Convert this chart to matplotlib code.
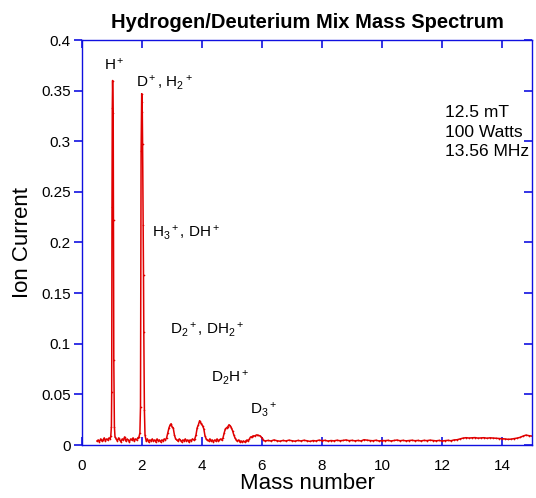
import matplotlib
matplotlib.use("Agg")
import matplotlib.pyplot as plt
from matplotlib.ticker import FuncFormatter

plt.rcParams['font.family'] = ['Liberation Sans', 'DejaVu Sans']
plt.rcParams['mathtext.fontset'] = 'custom'
plt.rcParams['mathtext.rm'] = 'Liberation Sans'
plt.rcParams['mathtext.it'] = 'Liberation Sans'

mass = [0.50, 0.54, 0.58, 0.62, 0.66, 0.70, 0.74, 0.78, 0.82, 0.86, 0.90, 0.94, 0.96,
        0.98, 0.99, 1.00, 1.01, 1.02, 1.04, 1.05, 1.06, 1.08, 1.10,
        1.14, 1.18, 1.22, 1.26, 1.30, 1.34, 1.38, 1.42, 1.46, 1.50, 1.54, 1.58, 1.62, 1.66, 1.70,
        1.74, 1.78, 1.82, 1.86, 1.90, 1.93,
        1.95, 1.97, 1.99, 2.00, 2.01, 2.02, 2.04, 2.05, 2.06, 2.08, 2.10,
        2.14, 2.18, 2.22, 2.26, 2.30, 2.34, 2.38, 2.42, 2.46, 2.50, 2.54, 2.58, 2.62, 2.66, 2.70,
        2.74, 2.78, 2.82,
        2.86, 2.90, 2.94, 2.97, 3.00, 3.04, 3.08, 3.12,
        3.16, 3.20, 3.24, 3.28, 3.32, 3.36, 3.40, 3.44, 3.48, 3.52, 3.56, 3.60, 3.64, 3.68, 3.72, 3.76,
        3.80, 3.84, 3.88, 3.92, 3.95, 3.98, 4.02, 4.06, 4.10, 4.14,
        4.18, 4.22, 4.26, 4.30, 4.34, 4.38, 4.42, 4.46, 4.50, 4.54, 4.58, 4.62, 4.66, 4.70,
        4.74, 4.78, 4.82, 4.86, 4.90, 4.94, 4.98, 5.02, 5.06, 5.10, 5.14,
        5.18, 5.22, 5.26, 5.30, 5.34, 5.38, 5.42, 5.46, 5.50, 5.54, 5.58,
        5.62, 5.66, 5.70, 5.76, 5.82, 5.88, 5.94, 6.00, 6.04,
        6.1, 6.2, 6.3, 6.4, 6.5, 6.6, 6.7, 6.8, 6.9, 7.0,
        7.1, 7.2, 7.3, 7.4, 7.5, 7.6, 7.7, 7.8, 7.9, 8.0,
        8.1, 8.2, 8.3, 8.4, 8.5, 8.6, 8.7, 8.8, 8.9, 9.0,
        9.1, 9.2, 9.3, 9.4, 9.5, 9.6, 9.7, 9.8, 9.9, 10.0,
        10.1, 10.2, 10.3, 10.4, 10.5, 10.6, 10.7, 10.8, 10.9, 11.0,
        11.1, 11.2, 11.3, 11.4, 11.5, 11.6, 11.7, 11.8, 11.9, 12.0,
        12.1, 12.2, 12.3, 12.4, 12.5, 12.6, 12.7, 12.8, 12.9, 13.0,
        13.1, 13.2, 13.3, 13.4, 13.5, 13.6, 13.7, 13.8, 13.9, 14.0,
        14.1, 14.2, 14.3, 14.4, 14.5, 14.6, 14.7, 14.8, 14.9, 15.0]

current = [0.004, 0.005, 0.003, 0.006, 0.004, 0.005, 0.007, 0.004, 0.006, 0.005, 0.007, 0.006, 0.009,
           0.018, 0.052, 0.235, 0.333, 0.360, 0.328, 0.222, 0.084, 0.018, 0.008,
           0.006, 0.004, 0.007, 0.005, 0.003, 0.006, 0.005, 0.008, 0.004, 0.006, 0.005, 0.003, 0.006, 0.005, 0.007,
           0.004, 0.006, 0.005, 0.007, 0.008, 0.012,
           0.038, 0.290, 0.347, 0.339, 0.329, 0.297, 0.217, 0.168, 0.112, 0.035, 0.010,
           0.004, 0.006, 0.003, 0.005, 0.004, 0.006, 0.004, 0.005, 0.003, 0.006, 0.004, 0.005, 0.003, 0.005, 0.004,
           0.006, 0.005, 0.007,
           0.012, 0.017, 0.020, 0.021, 0.018, 0.017, 0.010, 0.006,
           0.005, 0.004, 0.006, 0.005, 0.003, 0.005, 0.004, 0.006, 0.004, 0.005, 0.003, 0.005, 0.004, 0.006, 0.005, 0.006,
           0.010, 0.017, 0.020, 0.024, 0.022, 0.021, 0.019, 0.016, 0.009, 0.006,
           0.005, 0.004, 0.006, 0.004, 0.005, 0.003, 0.005, 0.004, 0.006, 0.004, 0.005, 0.006, 0.005, 0.007,
           0.012, 0.016, 0.017, 0.018, 0.020, 0.019, 0.017, 0.014, 0.010, 0.007, 0.005,
           0.004, 0.005, 0.003, 0.004, 0.003, 0.004, 0.003, 0.004, 0.005, 0.004, 0.006,
           0.008, 0.008, 0.009, 0.009, 0.010, 0.0095, 0.009, 0.007, 0.005,
           0.004, 0.0045, 0.004, 0.005, 0.0042, 0.0038, 0.0045, 0.004, 0.0048, 0.0042,
           0.0038, 0.0045, 0.004, 0.0047, 0.0041, 0.0036, 0.0044, 0.004, 0.0048, 0.0043,
           0.0046, 0.0039, 0.0044, 0.0041, 0.0047, 0.0042, 0.0045, 0.005, 0.0043, 0.0046,
           0.0041, 0.0045, 0.004, 0.0052, 0.0048, 0.0044, 0.0042, 0.0047, 0.004, 0.0044,
           0.0043, 0.0046, 0.004, 0.0045, 0.0049, 0.0042, 0.0046, 0.0041, 0.0044, 0.0047,
           0.0042, 0.0045, 0.004, 0.0046, 0.0043, 0.0048, 0.0044, 0.0041, 0.0045, 0.004,
           0.0043, 0.0046, 0.0042, 0.005, 0.0052, 0.006, 0.0068, 0.0072, 0.0069, 0.0071,
           0.0073, 0.0068, 0.007, 0.0072, 0.0067, 0.0071, 0.0069, 0.0066, 0.0064, 0.0062,
           0.006, 0.0056, 0.0058, 0.0063, 0.0068, 0.0075, 0.0088, 0.0098, 0.0092, 0.0088]

xticks = [0, 2, 4, 6, 8, 10, 12, 14]
yticks = [0, 0.05, 0.1, 0.15, 0.2, 0.25, 0.3, 0.35, 0.4]

fig = plt.figure(figsize=(5.36, 4.98), dpi=100)
ax = fig.add_axes([82/536, 1-445/498, 450/536, 405/498])

ax.plot(mass, current, color='#e00000', lw=1.1, marker='.', ms=2.4, mew=0)

ax.set_xlim(0, 15)
ax.set_ylim(0, 0.4)
ax.set_xticks(xticks)
ax.set_yticks(yticks)
ax.yaxis.set_major_formatter(FuncFormatter(lambda v, p: '%g' % v))

for s in ax.spines.values():
    s.set_color('#1010e0')
    s.set_linewidth(1.0)

ax.tick_params(axis='x', which='both', direction='in', top=True, bottom=True, color='#1010e0',
               length=6, width=1.2, labelsize=11, pad=10)
ax.tick_params(axis='y', which='both', direction='out', left=True, right=False, color='#1010e0',
               length=6, width=1.2, labelsize=11, pad=2)
axr = ax.twinx()
axr.set_ylim(0, 0.4)
axr.set_yticks(yticks)
axr.tick_params(axis='y', direction='in', color='#1010e0', length=6, width=1.2, labelright=False)
for s in axr.spines.values():
    s.set_visible(False)

ax.set_xlabel('Mass number', fontsize=16, labelpad=0)
ax.set_ylabel('Ion Current', fontsize=16, labelpad=6)
ax.set_title('Hydrogen/Deuterium Mix Mass Spectrum', fontsize=14.5, fontweight='bold', pad=9)

fs = 11
ax.text(0.72, 0.376, r'H$^+$', fontsize=fs, va='center', ha='left')
ax.text(1.8, 0.358, r'D$^+$, H$_2$$^+$', fontsize=fs, va='center', ha='left')
ax.text(2.33, 0.210, r'H$_3$$^+$, DH$^+$', fontsize=fs, va='center', ha='left')
ax.text(2.93, 0.1136, r'D$_2$$^+$, DH$_2$$^+$', fontsize=fs, va='center', ha='left')
ax.text(4.3, 0.066, r'D$_2$H$^+$', fontsize=fs, va='center', ha='left')
ax.text(5.6, 0.0346, r'D$_3$$^+$', fontsize=fs, va='center', ha='left')
ax.text(12.1, 0.336, '12.5 mT\n100 Watts\n13.56 MHz', fontsize=12.5, va='top', ha='left',
        linespacing=1.4)

fig.savefig('out.png', dpi=100)
